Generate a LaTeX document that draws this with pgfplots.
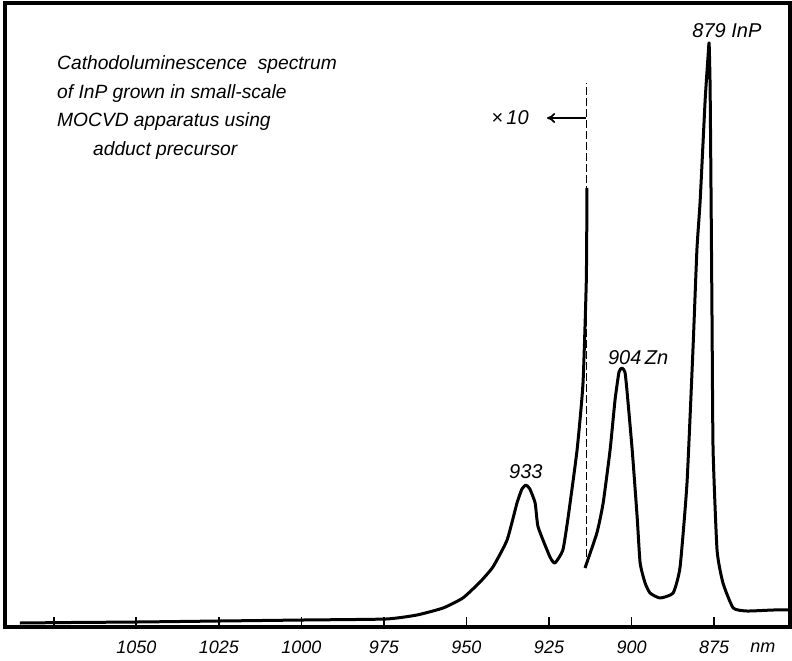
\documentclass[border=0pt]{standalone}
\usepackage{fontspec}
\setmainfont{Liberation Sans}
\usepackage{pgfplots}
\usepackage{pgfplotstable}
\pgfplotsset{compat=1.18}
\usetikzlibrary{arrows.meta}

% wavelength (nm), intensity (arb.) -- x10 part, left of the dashed line
\pgfplotstableread{
lam   I
1085.3 4
1070.0 4.5
1049.8 5
1024.7 6
999.5  7
974.4  8
965.0  12
957.1  19
951.1  29
945.9  45
942.0  60
937.7  87
934.7  124
933.2  138
932.0  142
930.8  138
929.2  124
928.3  100
924.7  70
923.2  64
920.8  77
919.2  110
916.5  177
914.7  244
913.7  347
913.5  439
}\xten

% x1 part, right of the dashed line
\pgfplotstableread{
lam   I
914.1  59
910.5  94
908.6  124
906.5  177
905.0  227
903.8  255
902.9  259
902.0  255
901.4  237
899.8  177
898.3  110
897.4  64
895.9  44
894.4  34
891.4  29
887.4  34
885.3  60
883.2  144
881.4  277
880.2  377
879.2  427
877.7  527
876.8  572
876.5  584
876.2  540
875.9  427
875.6  300
875.3  177
874.1  77
872.3  44
869.2  19
865.0  16
857.1  17
852.0  17
}\xone

\begin{document}
\begin{tikzpicture}
\begin{axis}[
    scale only axis,
    width=392.5pt, height=312pt,
    x dir=reverse,
    xmin=852, xmax=1089.8,
    ymin=0, ymax=624,
    axis line style={line width=1.7pt},
    xtick={1075,1050,1025,1000,975,950,925,900,875},
    xticklabels={{},1050,1025,1000,975,950,925,900,875},
    ytick=\empty,
    xtick pos=bottom,
    tick align=inside,
    major tick length=5pt,
    tick style={line width=0.9pt, black},
    xticklabel style={font=\fontsize{9}{9}\selectfont\itshape, yshift=-3.5pt},
    clip=false,
  ]
  \addplot[black, line width=1.5pt, line join=round, smooth, tension=0.3] table[x=lam, y=I] {\xten};
  \addplot[black, line width=1.5pt, line join=round, smooth, tension=0.3] table[x=lam, y=I] {\xone};
  \addplot[black, line width=0.7pt, dash pattern=on 4pt off 1.5pt] coordinates {(913.7,70) (913.7,544)};
  \draw[{To[length=4pt,width=5pt]}-, line width=0.9pt] (axis cs:925.6,509) -- (axis cs:913.7,509);

  \node[font=\fontsize{10}{10}\selectfont\itshape] at (axis cs:936.8,509) {×\,10};
  \node[font=\fontsize{10}{10}\selectfont\itshape] at (axis cs:932,155) {933};
  \node[font=\fontsize{10}{10}\selectfont\itshape] at (axis cs:898,269) {904\,Zn};
  \node[font=\fontsize{10}{10}\selectfont\itshape] at (axis cs:871.1,596) {879 InP};
  \node[font=\fontsize{9}{9}\selectfont\itshape] at (axis cs:860.2,-21) {nm};

  \node[anchor=north west, inner sep=0pt, align=left,
        font=\fontsize{9.6}{14.25}\selectfont\itshape]
    at (axis cs:1074.1,571.5)
    {Cathodoluminescence\ \ spectrum\\
     of InP grown in small-scale\\
     MOCVD apparatus using\\
     \hspace*{18pt}adduct precursor};
\end{axis}
\pgfresetboundingbox
\path ([shift={(-2.5pt,-16.5pt)}]current axis.south west) rectangle ([shift={(1pt,1.5pt)}]current axis.north east);
\end{tikzpicture}
\end{document}
